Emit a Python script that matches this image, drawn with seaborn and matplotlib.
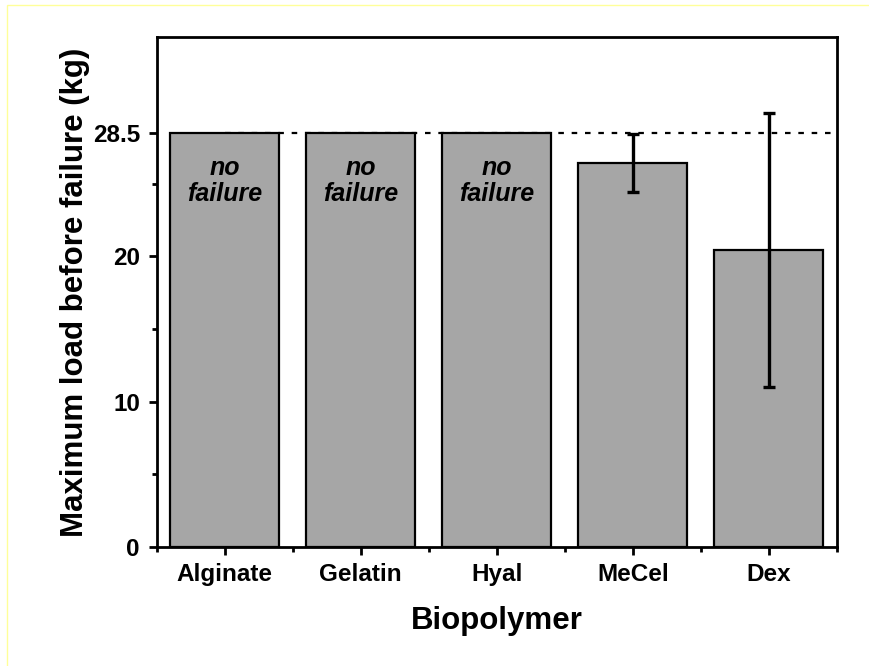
import pandas as pd
import numpy as np
import matplotlib.pyplot as plt
import seaborn as sns
from matplotlib.patches import Rectangle
from matplotlib.ticker import FixedLocator

sns.set_style("ticks")
plt.rcParams["font.family"] = ["Liberation Sans", "DejaVu Sans"]
plt.rcParams["text.color"] = "black"
plt.rcParams["axes.labelcolor"] = "black"
plt.rcParams["xtick.color"] = "black"
plt.rcParams["ytick.color"] = "black"

# data
biopolymers = ["Alginate", "Gelatin", "Hyal", "MeCel", "Dex"]
max_load = [28.5, 28.5, 28.5, 26.45, 20.45]
load_err = [0.0, 0.0, 0.0, 2.0, 9.45]
no_failure = [True, True, True, False, False]
limit = 28.5

df = pd.DataFrame({"Biopolymer": biopolymers, "Load": max_load, "Err": load_err})

fig = plt.figure(figsize=(8.7, 6.66), dpi=100)
ax = fig.add_axes([0.180, 0.179, 0.782, 0.765])

# reference line at the test limit (behind bars)
ax.plot([0, 4.5], [limit, limit], color="black", lw=1.6,
        linestyle=(0, (2.5, 3.5)), zorder=0.5)

sns.barplot(data=df, x="Biopolymer", y="Load", color="#a6a6a6",
            saturation=1, width=0.8, edgecolor="black", linewidth=1.6,
            errorbar=None, ax=ax, zorder=2)

# error bars only where failure occurred
x = np.arange(len(biopolymers))
mask = np.array(load_err) > 0
ax.errorbar(x[mask], np.array(max_load)[mask], yerr=np.array(load_err)[mask],
            fmt="none", ecolor="black", elinewidth=2.4, capsize=4.5,
            capthick=2.4, zorder=3)

for i, flag in enumerate(no_failure):
    if flag:
        ax.text(i, 25.2, "no\nfailure", ha="center", va="center",
                fontsize=18, fontweight="bold", fontstyle="italic",
                linespacing=1.15, color="black", zorder=4)

ax.set_xlim(-0.5, 4.5)
ax.set_ylim(0, 35.1)
ax.set_yticks([0, 10, 20, limit])
ax.set_yticklabels(["0", "10", "20", "28.5"])
ax.yaxis.set_minor_locator(FixedLocator([5, 15, 25]))
ax.xaxis.set_minor_locator(FixedLocator(np.arange(-0.5, 5, 1)))

ax.set_xlabel("Biopolymer", fontsize=22.5, fontweight="bold", labelpad=14)
ax.set_ylabel("Maximum load before failure (kg)", fontsize=22.5,
              fontweight="bold", labelpad=2)

for lab in ax.get_xticklabels() + ax.get_yticklabels():
    lab.set_fontweight("bold")
    lab.set_fontsize(17.5)

ax.tick_params(axis="both", which="major", direction="out", length=6,
               width=2, color="black", pad=6)
ax.tick_params(axis="both", which="minor", direction="out", length=3.5,
               width=2, color="black")
for sp in ax.spines.values():
    sp.set_linewidth(2)
    sp.set_color("black")
    sp.set_visible(True)

# faint yellow frame around the figure
fig.patches.append(Rectangle((7 / 870, -0.1), 1.2, 1 - 4.5 / 666 + 0.1,
                             transform=fig.transFigure, fill=False,
                             edgecolor="#ffff99", lw=1))

fig.savefig("out.png", dpi=100, facecolor="white")
